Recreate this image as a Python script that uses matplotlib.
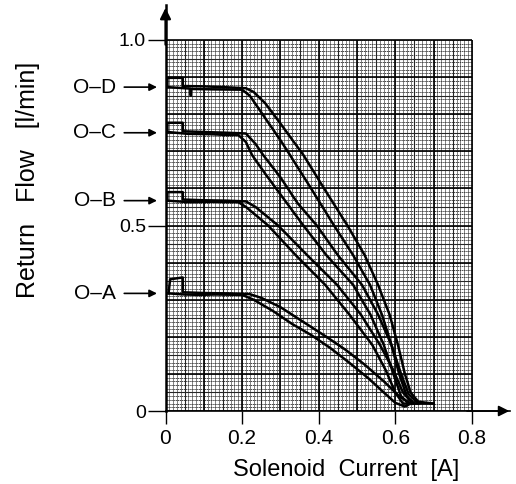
import numpy as np
import matplotlib
matplotlib.use("Agg")
import matplotlib.pyplot as plt

plt.rcParams['font.family'] = ['Liberation Sans', 'DejaVu Sans']

# ---------------- data ----------------
curve_names = ["O–D", "O–C", "O–B", "O–A"]
levels = [0.873, 0.750, 0.567, 0.317]

# O-D
d_out_x = [0.005, 0.005, 0.045, 0.045, 0.10, 0.15, 0.21, 0.23, 0.26, 0.30, 0.36, 0.42, 0.475, 0.52, 0.555, 0.585, 0.607, 0.625, 0.64, 0.66, 0.70]
d_out_y = [0.873, 0.898, 0.898, 0.876, 0.875, 0.873, 0.870, 0.860, 0.830, 0.775, 0.690, 0.590, 0.500, 0.420, 0.340, 0.260, 0.178, 0.100, 0.050, 0.025, 0.020]
d_in_x = [0.005, 0.05, 0.065, 0.066, 0.067, 0.12, 0.20, 0.22, 0.26, 0.30, 0.325, 0.38, 0.44, 0.49, 0.534, 0.565, 0.59, 0.61, 0.63, 0.65, 0.70]
d_in_y = [0.873, 0.870, 0.869, 0.850, 0.868, 0.867, 0.866, 0.850, 0.790, 0.730, 0.690, 0.600, 0.500, 0.420, 0.340, 0.260, 0.178, 0.100, 0.040, 0.020, 0.020]

# O-C
c_out_x = [0.005, 0.005, 0.045, 0.045, 0.10, 0.16, 0.21, 0.235, 0.255, 0.30, 0.345, 0.395, 0.45, 0.513, 0.555, 0.59, 0.615, 0.635, 0.66]
c_out_y = [0.752, 0.777, 0.777, 0.754, 0.752, 0.750, 0.748, 0.720, 0.690, 0.630, 0.560, 0.500, 0.420, 0.340, 0.260, 0.178, 0.100, 0.045, 0.020]
c_in_x = [0.005, 0.06, 0.12, 0.16, 0.19, 0.21, 0.226, 0.26, 0.31, 0.36, 0.42, 0.49, 0.535, 0.57, 0.595, 0.615, 0.635, 0.66]
c_in_y = [0.752, 0.747, 0.746, 0.744, 0.744, 0.725, 0.690, 0.640, 0.570, 0.500, 0.420, 0.340, 0.260, 0.178, 0.100, 0.040, 0.020, 0.020]

# O-B
b_out_x = [0.005, 0.005, 0.045, 0.045, 0.10, 0.16, 0.21, 0.235, 0.294, 0.37, 0.448, 0.51, 0.56, 0.595, 0.62, 0.645]
b_out_y = [0.567, 0.590, 0.590, 0.570, 0.568, 0.567, 0.565, 0.550, 0.500, 0.420, 0.340, 0.260, 0.178, 0.110, 0.050, 0.020]
b_in_x = [0.005, 0.06, 0.12, 0.19, 0.21, 0.268, 0.34, 0.417, 0.48, 0.54, 0.575, 0.60, 0.62, 0.645]
b_in_y = [0.567, 0.563, 0.564, 0.563, 0.550, 0.500, 0.420, 0.340, 0.260, 0.178, 0.110, 0.050, 0.020, 0.020]

# O-A
a_out_x = [0.008, 0.012, 0.045, 0.045, 0.10, 0.16, 0.22, 0.25, 0.30, 0.36, 0.42, 0.47, 0.52, 0.57, 0.61, 0.64]
a_out_y = [0.317, 0.355, 0.360, 0.320, 0.318, 0.317, 0.315, 0.305, 0.280, 0.240, 0.200, 0.165, 0.125, 0.080, 0.040, 0.020]
a_in_x = [0.008, 0.05, 0.09, 0.13, 0.20, 0.23, 0.28, 0.33, 0.38, 0.43, 0.48, 0.53, 0.57, 0.60, 0.625, 0.64]
a_in_y = [0.317, 0.314, 0.313, 0.314, 0.313, 0.300, 0.270, 0.235, 0.205, 0.170, 0.130, 0.088, 0.050, 0.022, 0.012, 0.020]

branches = [
    (d_out_x, d_out_y), (d_in_x, d_in_y),
    (c_out_x, c_out_y), (c_in_x, c_in_y),
    (b_out_x, b_out_y), (b_in_x, b_in_y),
    (a_out_x, a_out_y), (a_in_x, a_in_y),
]

x_ticks = [0, 0.2, 0.4, 0.6, 0.8]
x_tick_labels = ["0", "0.2", "0.4", "0.6", "0.8"]
y_ticks = [0, 0.5, 1.0]
y_tick_labels = ["0", "0.5", "1.0"]

# ---------------- figure ----------------
W, H = 516, 484
fig = plt.figure(figsize=(W / 100, H / 100), dpi=100)
x0px, xscale = 165.5, 383.0
y0px, yscale = 411.0, 371.0
xmax, ymax = 0.9, 1.094
left = x0px / W
bottom = 1 - y0px / H
ax = fig.add_axes([left, bottom, xmax * xscale / W, ymax * yscale / H])
ax.set_xlim(0, xmax)
ax.set_ylim(0, ymax)

# graph paper grid
minor = np.round(np.arange(0, 0.8001, 0.01), 3)
minor_y = np.round(np.arange(0, 1.0001, 0.01), 3)
ax.vlines(minor, 0, 1.0, colors='0.3', linewidth=0.5, zorder=1)
ax.hlines(minor_y, 0, 0.8, colors='0.15', linewidth=0.6, linestyles=(0, (1.5, 0.8)), zorder=1)
mid = np.round(np.arange(0.05, 0.8, 0.1), 3)
mid_y = np.round(np.arange(0.05, 1.0, 0.1), 3)
ax.vlines(mid, 0, 1.0, colors='0.15', linewidth=0.8, zorder=1)
ax.hlines(mid_y, 0, 0.8, colors='0.15', linewidth=0.8, zorder=1)
major = np.round(np.arange(0, 0.8001, 0.1), 3)
major_y = np.round(np.arange(0, 1.0001, 0.1), 3)
ax.vlines(major, 0, 1.0, colors='black', linewidth=1.2, zorder=2)
ax.hlines(major_y, 0, 0.8, colors='black', linewidth=1.2, zorder=2)

# curves
for bx, by in branches:
    ax.plot(bx, by, color='black', linewidth=1.8, zorder=4, solid_joinstyle='round')

# axes styling
for s in ['top', 'right']:
    ax.spines[s].set_visible(False)
ax.spines['left'].set_linewidth(1.8)
ax.spines['bottom'].set_linewidth(1.2)
ax.set_xticks(x_ticks)
ax.set_xticklabels(x_tick_labels, fontsize=15)
ax.set_yticks(y_ticks)
ax.set_yticklabels(y_tick_labels, fontsize=14)
ax.tick_params(axis='x', direction='out', length=9, width=1.0, pad=4)
ax.tick_params(axis='y', direction='out', length=13, width=1.0, pad=1)

# axis arrows
ax.annotate('', xy=(0, ymax), xytext=(0, 0.98), xycoords='data',
            arrowprops=dict(arrowstyle='-|>', color='black', lw=1.6, mutation_scale=16),
            annotation_clip=False)
ax.annotate('', xy=(xmax + 0.005, 0), xytext=(0.78, 0), xycoords='data',
            arrowprops=dict(arrowstyle='-|>', color='black', lw=1.2, mutation_scale=16),
            annotation_clip=False)

# curve labels with arrows
for name, lvl in zip(curve_names, levels):
    ax.text(-0.185, lvl, name, fontsize=15, ha='center', va='center')
    ax.annotate('', xy=(-0.015, lvl), xytext=(-0.115, lvl), xycoords='data',
                arrowprops=dict(arrowstyle='-|>', color='black', lw=1.2, mutation_scale=11),
                annotation_clip=False)

fig.text(28 / W, 1 - 180 / H, "Return   Flow   [l/min]", rotation=90,
         ha='center', va='center', fontsize=18)
fig.text(346 / W, 1 - 470 / H, "Solenoid  Current  [A]",
         ha='center', va='center', fontsize=17)

fig.savefig("out.png", dpi=100)
